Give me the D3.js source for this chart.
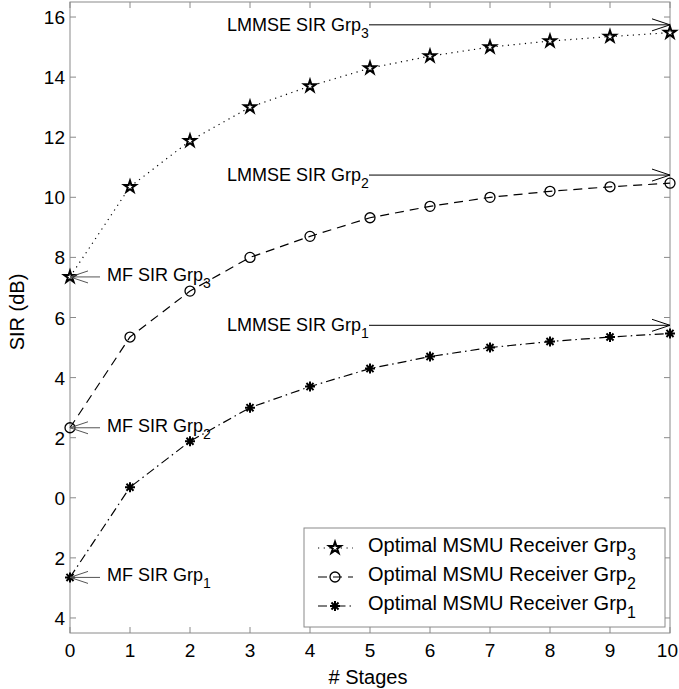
<!DOCTYPE html>
<html>
<head>
<meta charset="utf-8">
<script src="https://cdn.jsdelivr.net/npm/d3@7"></script>
<style>
  body { margin: 0; background: #fff; }
  text { font-family: "Liberation Sans", Arial, sans-serif; }
</style>
</head>
<body>
<svg id="viz"></svg>
<script>
var width = 679;
var height = 689;

// data
var stages = [0, 1, 2, 3, 4, 5, 6, 7, 8, 9, 10];
var grp3 = [7.35, 10.35, 11.88, 13.0, 13.7, 14.3, 14.7, 15.0, 15.2, 15.35, 15.48];
var grp2 = [2.33, 5.35, 6.88, 8.0, 8.7, 9.32, 9.7, 10.0, 10.2, 10.35, 10.47];
var grp1 = [-2.65, 0.35, 1.88, 3.0, 3.7, 4.3, 4.7, 5.0, 5.2, 5.35, 5.47];
var lmmse = [15.74, 10.74, 5.74];
var mf = [7.35, 2.33, -2.65];
var xTicks = [0, 1, 2, 3, 4, 5, 6, 7, 8, 9, 10];
var yTicks = [-4, -2, 0, 2, 4, 6, 8, 10, 12, 14, 16];
var legendLabels = ["Optimal MSMU Receiver Grp", "Optimal MSMU Receiver Grp", "Optimal MSMU Receiver Grp"];
var legendSubs = ["3", "2", "1"];

var svg = d3.select("#viz").attr("width", width).attr("height", height);

var x = d3.scaleLinear().domain([0, 10]).range([70, 670]);
var y = d3.scaleLinear().domain([-4.5, 16.5]).range([633, 2]);

var axisColor = "#8a8a8a";

// box
svg.append("rect")
  .attr("x", x(0)).attr("y", y(16.5))
  .attr("width", x(10) - x(0)).attr("height", y(-4.5) - y(16.5))
  .attr("fill", "none").attr("stroke", axisColor).attr("stroke-width", 1);

// ticks (inside, all four sides)
var tickG = svg.append("g").attr("stroke", axisColor).attr("stroke-width", 1);
xTicks.forEach(function (t) {
  tickG.append("line").attr("x1", x(t)).attr("x2", x(t)).attr("y1", y(-4.5)).attr("y2", y(-4.5) - 6);
  tickG.append("line").attr("x1", x(t)).attr("x2", x(t)).attr("y1", y(16.5)).attr("y2", y(16.5) + 6);
});
yTicks.forEach(function (t) {
  tickG.append("line").attr("x1", x(0)).attr("x2", x(0) + 6).attr("y1", y(t)).attr("y2", y(t));
  tickG.append("line").attr("x1", x(10)).attr("x2", x(10) - 6).attr("y1", y(t)).attr("y2", y(t));
});

// tick labels (last one kept inside the page edge)
svg.append("g").selectAll("text").data(xTicks).join("text")
  .attr("x", d => d == 10 ? width - 1 : x(d)).attr("y", 657)
  .attr("text-anchor", d => d == 10 ? "end" : "middle").style("font-size", "19px")
  .text(d => d);

svg.append("g").selectAll("text").data(yTicks).join("text")
  .attr("x", x(0) - 5).attr("y", d => y(d) + 7)
  .attr("text-anchor", "end").style("font-size", "19px")
  .text(d => Math.abs(d)); // the picture shows no minus signs

// axis titles
svg.append("text")
  .attr("x", 368).attr("y", 684)
  .attr("text-anchor", "middle").style("font-size", "20px")
  .text("# Stages");

svg.append("text")
  .attr("transform", "translate(24," + 312 + ") rotate(-90)")
  .attr("text-anchor", "middle").style("font-size", "20px")
  .text("SIR (dB)");

// curves
var series = [
  { vals: grp3, dash: "1.2,4.5", marker: "star" },
  { vals: grp2, dash: "9,6", marker: "circle" },
  { vals: grp1, dash: "9,4,1.5,4", marker: "asterisk" }
];

var line = d3.line().x((d, i) => x(stages[i])).y(d => y(d));

function drawMarker(g, type, cx, cy) {
  if (type == "star") {
    g.append("path")
      .attr("d", d3.symbol().type(d3.symbolStar).size(42)())
      .attr("transform", "translate(" + cx + "," + cy + ")")
      .attr("fill", "#fff").attr("stroke", "#000").attr("stroke-width", 2);
  } else if (type == "circle") {
    g.append("circle").attr("cx", cx).attr("cy", cy).attr("r", 5)
      .attr("fill", "none").attr("stroke", "#000").attr("stroke-width", 1.3);
  } else {
    var r = 5;
    var p = "";
    for (var k = 0; k < 4; k++) {
      var a = k * Math.PI / 4;
      p += "M" + (cx - r * Math.cos(a)) + "," + (cy - r * Math.sin(a)) +
           "L" + (cx + r * Math.cos(a)) + "," + (cy + r * Math.sin(a));
    }
    g.append("path").attr("d", p).attr("stroke", "#000").attr("stroke-width", 2);
  }
}

series.forEach(function (s) {
  svg.append("path")
    .attr("d", line(s.vals))
    .attr("fill", "none").attr("stroke", "#000")
    .attr("stroke-width", 1.2).attr("stroke-dasharray", s.dash);
  var mg = svg.append("g");
  s.vals.forEach(function (v, i) { drawMarker(mg, s.marker, x(stages[i]), y(v)); });
});

// annotation arrows
function arrow(x1, y1, x2, y2, col) {
  var g = svg.append("g").attr("stroke", col).attr("stroke-width", 1).attr("fill", "none");
  g.append("line").attr("x1", x1).attr("y1", y1).attr("x2", x2).attr("y2", y2);
  var dir = x2 > x1 ? -1 : 1;
  g.append("path").attr("d",
    "M" + (x2 + dir * 18) + "," + (y2 - 6) + "L" + x2 + "," + y2 + "L" + (x2 + dir * 18) + "," + (y2 + 6));
}

function subText(tx, ty, main, sub, size) {
  var t = svg.append("text").attr("x", tx).attr("y", ty).style("font-size", size + "px");
  t.append("tspan").text(main);
  t.append("tspan").attr("dy", 7).style("font-size", (size * 0.78) + "px").text(sub);
  return t;
}

var subs = ["3", "2", "1"];
lmmse.forEach(function (v, i) {
  var t = subText(0, y(v) + 6, "LMMSE SIR Grp", subs[i], 18);
  var bb = t.node().getBBox();
  t.attr("x", 369 - bb.width);
  arrow(369, y(v), x(10), y(v), "#000");
});

mf.forEach(function (v, i) {
  subText(107, y(v) + 4, "MF SIR Grp", subs[i], 18);
  arrow(100, y(v), x(0), y(v), "#555");
});

// legend
var lg = svg.append("g");
lg.append("rect").attr("x", 304).attr("y", 528).attr("width", 361).attr("height", 99)
  .attr("fill", "#fff").attr("stroke", axisColor).attr("stroke-width", 1);

var legendY = [548, 577, 606];
series.forEach(function (s, i) {
  lg.append("line").attr("x1", 318).attr("x2", 353)
    .attr("y1", legendY[i]).attr("y2", legendY[i])
    .attr("stroke", "#000").attr("stroke-width", 1.2).attr("stroke-dasharray", s.dash);
  drawMarker(lg, s.marker, 335, legendY[i]);
  var t = lg.append("text").attr("x", 368).attr("y", legendY[i] + 4).style("font-size", "20px");
  t.append("tspan").text(legendLabels[i]);
  t.append("tspan").attr("dy", 8).style("font-size", "16px").text(legendSubs[i]);
});
</script>
</body>
</html>
